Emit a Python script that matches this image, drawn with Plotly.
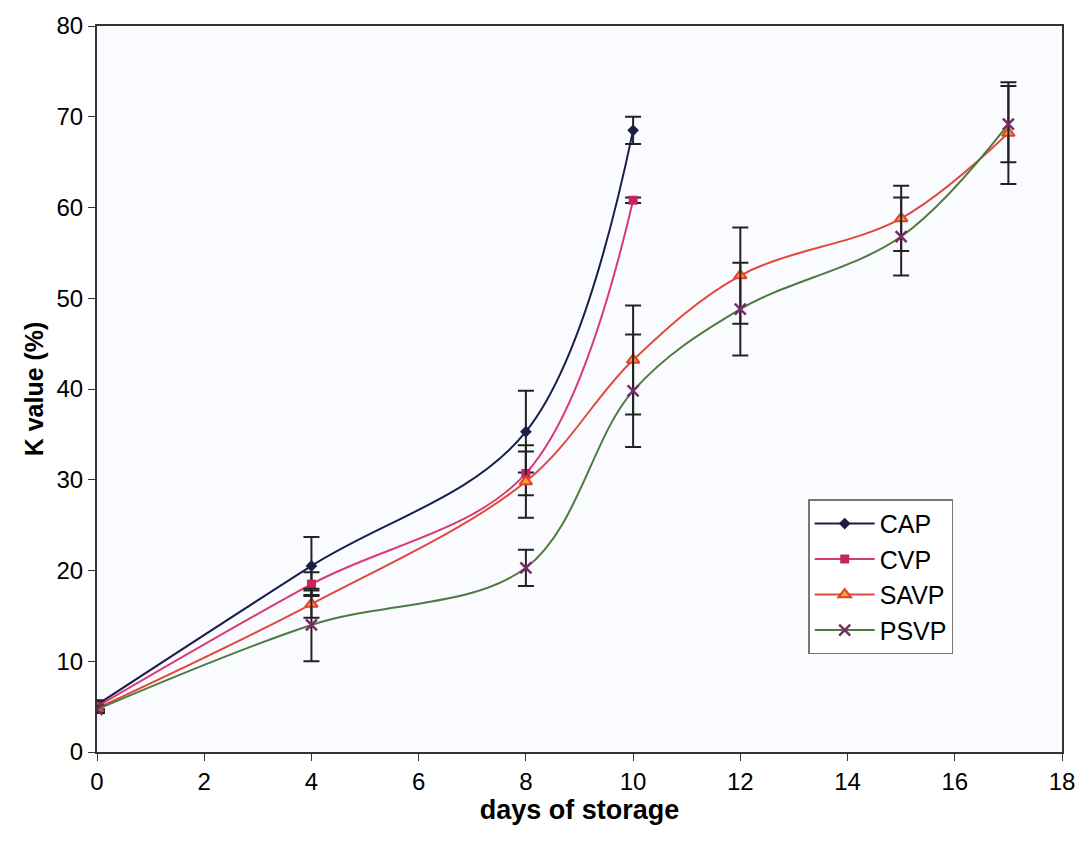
import plotly.graph_objects as go

days_cap = [0, 4, 8, 10]
cap = [5.2, 20.5, 35.3, 68.5]
cap_err = [0.5, 3.2, 4.5, 1.5]

days_cvp = [0, 4, 8, 10]
cvp = [5.0, 18.5, 30.7, 60.8]
cvp_err = [0.5, 1.3, 2.4, 0.3]

days_savp = [0, 4, 8, 10, 12, 15, 17]
savp = [4.8, 16.3, 29.8, 43.2, 52.5, 58.8, 68.2]
savp_err = [0.4, 1.5, 4.0, 6.0, 5.3, 3.6, 5.6]

days_psvp = [0, 4, 8, 10, 12, 15, 17]
psvp = [4.7, 14.0, 20.3, 39.8, 48.8, 56.8, 69.2]
psvp_err = [0.4, 4.0, 2.0, 6.2, 5.1, 4.3, 4.2]

FONT = "Liberation Sans, Arial, sans-serif"

def trace(name, x, y, err, line_color, marker):
    return go.Scatter(
        x=x, y=y, name=name, mode="lines+markers",
        line=dict(color=line_color, width=2, shape="spline", smoothing=1.0),
        marker=marker,
        error_y=dict(type="data", array=err, visible=True, color="#222222",
                     thickness=2, width=8),
    )

fig = go.Figure()
fig.add_trace(trace("CAP", days_cap, cap, cap_err, "#1c1c48",
                    dict(symbol="diamond", size=9, color="#1c1c48")))
fig.add_trace(trace("CVP", days_cvp, cvp, cvp_err, "#d83a72",
                    dict(symbol="square", size=9, color="#c8245e")))
fig.add_trace(trace("SAVP", days_savp, savp, savp_err, "#e04a3c",
                    dict(symbol="triangle-up", size=11, color="#f7a13a",
                         line=dict(color="#e0402e", width=2))))
fig.add_trace(trace("PSVP", days_psvp, psvp, psvp_err, "#4d7a3e",
                    dict(symbol="x-thin", size=11, color="#7a2a66",
                         line=dict(color="#7a2a66", width=2.5))))

fig.update_layout(
    width=1092, height=850,
    margin=dict(l=97, r=30, t=18, b=98),
    paper_bgcolor="white",
    plot_bgcolor="#fafbfe",
    font=dict(family=FONT, size=24, color="black"),
    showlegend=True,
    legend=dict(x=0.737, y=0.348, xanchor="left", yanchor="top",
                bgcolor="white", bordercolor="#777777", borderwidth=1.5,
                font=dict(size=25, family=FONT), itemwidth=60,
                tracegroupgap=0),
    xaxis=dict(range=[0, 18], dtick=2, tick0=0, showgrid=False, zeroline=False,
               showline=True, linecolor="#333333", linewidth=2, mirror=True,
               ticks="outside", ticklen=7, tickcolor="#333333",
               tickfont=dict(size=24),
               title=dict(text="<b>days of storage</b>", font=dict(size=27), standoff=2)),
    yaxis=dict(range=[0, 80], dtick=10, tick0=0, showgrid=False, zeroline=False,
               showline=True, linecolor="#333333", linewidth=2, mirror=True,
               ticks="outside", ticklen=7, tickcolor="#333333",
               tickfont=dict(size=24),
               title=dict(text="<b>K value (%)</b>", font=dict(size=25), standoff=6)),
)

fig.write_html("out.html")
